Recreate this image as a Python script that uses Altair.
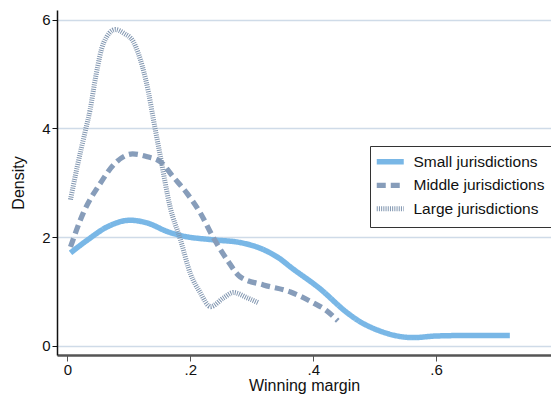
import altair as alt
import pandas as pd

series_names = ["Small jurisdictions", "Middle jurisdictions", "Large jurisdictions"]

small_x = [0.005, 0.033, 0.065, 0.102, 0.13, 0.163, 0.184, 0.237, 0.281, 0.319, 0.346,
           0.363, 0.411, 0.455, 0.471, 0.509, 0.563, 0.6, 0.66, 0.72]
small_y = [1.71, 1.95, 2.19, 2.31, 2.26, 2.1, 2.03, 1.95, 1.9, 1.77, 1.6,
           1.45, 1.05, 0.61, 0.48, 0.27, 0.15, 0.18, 0.19, 0.19]

middle_x = [0.005, 0.026, 0.054, 0.075, 0.106, 0.13, 0.151, 0.172, 0.195, 0.216, 0.237,
            0.26, 0.281, 0.319, 0.363, 0.4, 0.42, 0.44]
middle_y = [1.82, 2.45, 3.0, 3.33, 3.53, 3.48, 3.39, 3.11, 2.8, 2.45, 2.0,
            1.58, 1.27, 1.12, 0.99, 0.79, 0.66, 0.46]

large_x = [0.005, 0.016, 0.029, 0.037, 0.046, 0.059, 0.078, 0.092, 0.107, 0.122, 0.132,
           0.14, 0.151, 0.167, 0.184, 0.2, 0.216, 0.233, 0.254, 0.27, 0.293, 0.311]
large_y = [2.69, 3.3, 3.95, 4.35, 4.95, 5.58, 5.82, 5.75, 5.6, 5.14, 4.66,
           4.16, 3.5, 2.56, 1.95, 1.33, 0.98, 0.72, 0.88, 0.98, 0.88, 0.79]

x_ticks = [0, 0.2, 0.4, 0.6]
y_ticks = [0, 2, 4, 6]

colors = ["#79b7e6", "#879dba", "#8196b0"]
dashes = [[1, 0], [9, 5], [1, 1.2]]
widths = [5.5, 5, 4.5]

rows = []
for name, xs, ys in zip(series_names, [small_x, middle_x, large_x], [small_y, middle_y, large_y]):
    for xv, yv in zip(xs, ys):
        rows.append({"series": name, "x": xv, "y": yv})
df = pd.DataFrame(rows)

FONT = "Liberation Sans"

chart = alt.Chart(df).mark_line(interpolate="monotone", strokeCap="butt").encode(
    x=alt.X("x:Q",
            scale=alt.Scale(domain=[-0.017, 0.787], nice=False, zero=False),
            axis=alt.Axis(values=x_ticks,
                          labelExpr="datum.value == 0 ? '0' : slice(format(datum.value, '.1f'), 1)",
                          title="Winning margin", grid=False,
                          domainColor="#555555", domainWidth=2.5,
                          tickColor="#555555", tickSize=6, tickWidth=1,
                          labelPadding=1, titlePadding=0)),
    y=alt.Y("y:Q",
            scale=alt.Scale(domain=[-0.17, 6.18], nice=False, zero=False),
            axis=alt.Axis(values=y_ticks, title="Density", grid=True,
                          gridColor="#cfdbe8", gridWidth=1.5,
                          domainColor="#111111", domainWidth=1.5,
                          tickColor="#111111", tickSize=5, tickWidth=1,
                          labelPadding=2, titlePadding=15)),
    color=alt.Color("series:N", scale=alt.Scale(domain=series_names, range=colors),
                    legend=alt.Legend(title=None)),
    strokeDash=alt.StrokeDash("series:N", scale=alt.Scale(domain=series_names, range=dashes),
                              legend=alt.Legend(title=None)),
    strokeWidth=alt.StrokeWidth("series:N", scale=alt.Scale(domain=series_names, range=widths),
                                legend=None),
).properties(
    width=494,
    height=345,
    autosize=alt.AutoSizeParams(type="none"),
    padding={"left": 49, "top": 2, "right": 0, "bottom": 40},
).configure_view(
    stroke=None
).configure_axis(
    labelFont=FONT, titleFont=FONT, labelFontSize=15, titleFontSize=16,
    titleFontWeight="normal", labelColor="#111111", titleColor="#111111",
).configure_legend(
    orient="none", legendX=313, legendY=136,
    strokeColor="#333333", fillColor="white", padding=8,
    symbolType="M-2,0H4", symbolSize=81, symbolStrokeWidth=5,
    labelFont=FONT, labelFontSize=15.5, labelColor="#111111",
    labelOffset=20, rowPadding=1.5, labelLimit=0, cornerRadius=0,
)

chart.save("out.html", embed_options={"renderer": "svg", "actions": False})
